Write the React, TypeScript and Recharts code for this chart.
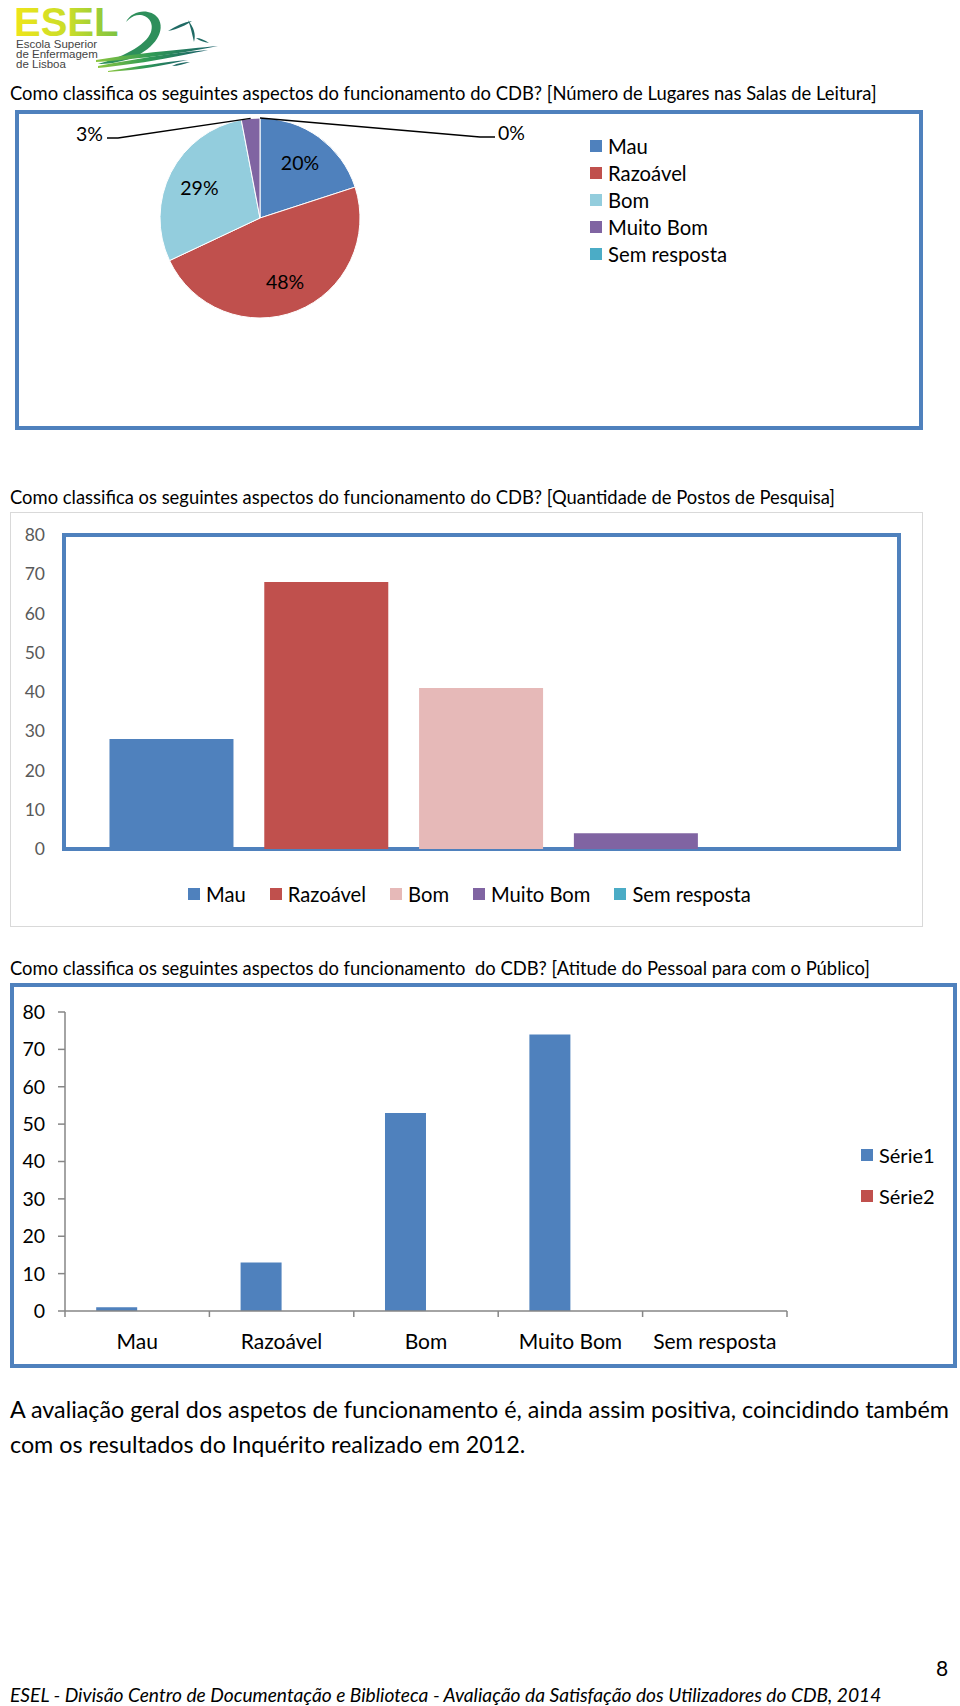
import React from "react";
import { PieChart, Pie, Cell, BarChart, Bar, XAxis, YAxis, Legend } from "recharts";

const categories = ["Mau", "Razoável", "Bom", "Muito Bom", "Sem resposta"];

// [Número de Lugares nas Salas de Leitura] - percentagens
const lugaresPct = [20, 48, 29, 3, 0];
const lugaresColors = ["#4f81bd", "#c0504d", "#93cddd", "#8064a2", "#4bacc6"];

// [Quantidade de Postos de Pesquisa]
const postosValues = [28, 68, 41, 4, 0];
const postosColors = ["#4f81bd", "#c0504d", "#e6b9b8", "#8064a2", "#4bacc6"];

// [Atitude do Pessoal para com o Público]
const serieNames = ["Série1", "Série2"];
const serieColors = ["#4f81bd", "#c0504d"];
const atitudeSerie1 = [1, 13, 53, 74, 0];
const atitudeSerie2 = [0, 0, 0, 0, 0];

const yTicks = [0, 10, 20, 30, 40, 50, 60, 70, 80];

const FONT = "Lato, 'Open Sans', sans-serif";
const RAD = Math.PI / 180;

const pieData = categories.map((name, i) => ({ name, value: lugaresPct[i] }));
const postosData = categories.map((name, i) => ({ name, [name]: postosValues[i] }));
const atitudeData = categories.map((name, i) => ({
  name,
  s1: atitudeSerie1[i],
  s2: atitudeSerie2[i],
}));

// leader line placement for the tiny slices (relative to pie centre)
const smallLabels: Record<number, { elbow: [number, number]; end: [number, number]; left: boolean }> = {
  3: { elbow: [-142, -80], end: [-153, -80], left: true },
  4: { elbow: [220, -81], end: [235, -81], left: false },
};

function renderPieLabel(p: any) {
  const { cx, cy, midAngle, outerRadius, index, value } = p;
  if (value >= 10) {
    const r = outerRadius * 0.68;
    return (
      <text
        x={cx + r * Math.cos(-midAngle * RAD)}
        y={cy + r * Math.sin(-midAngle * RAD)}
        textAnchor="middle"
        dominantBaseline="central"
        fontFamily={FONT}
        fontSize={19.5}
        fill="#000"
      >
        {value}%
      </text>
    );
  }
  const lay = smallLabels[index];
  if (!lay) return null;
  const sx = cx + outerRadius * Math.cos(-midAngle * RAD);
  const sy = cy + outerRadius * Math.sin(-midAngle * RAD);
  const ex = cx + lay.elbow[0];
  const ey = cy + lay.elbow[1];
  const tx = cx + lay.end[0];
  const ty = cy + lay.end[1];
  return (
    <g>
      <polyline points={`${sx},${sy} ${ex},${ey} ${tx},${ty}`} fill="none" stroke="#000" strokeWidth={1.3} />
      <text
        x={tx + (lay.left ? -4 : 3)}
        y={ty - 5}
        textAnchor={lay.left ? "end" : "start"}
        dominantBaseline="central"
        fontFamily={FONT}
        fontSize={19.5}
        fill="#000"
      >
        {value}%
      </text>
    </g>
  );
}

function SquareLegend({
  names,
  colors,
  vertical,
  rowHeight,
  gap,
  fontSize,
}: {
  names: string[];
  colors: string[];
  vertical: boolean;
  rowHeight: number;
  gap: number;
  fontSize: number;
}) {
  return (
    <div style={{ display: "flex", flexDirection: vertical ? "column" : "row", fontFamily: FONT, fontSize, color: "#000" }}>
      {names.map((n, i) => (
        <div key={n} style={{ display: "flex", alignItems: "center", height: rowHeight, marginRight: vertical ? 0 : gap, whiteSpace: "nowrap" }}>
          <span style={{ display: "inline-block", width: 12, height: 12, background: colors[i], marginRight: 6 }} />
          <span>{n}</span>
        </div>
      ))}
    </div>
  );
}

function CategoryTick(props: any) {
  const { x, y, payload, index, visibleTicksCount } = props;
  const half = payload && payload.offset ? payload.offset : 72.2;
  const last = index === visibleTicksCount - 1;
  return (
    <g>
      <line x1={x - half} x2={x - half} y1={y} y2={y + 6} stroke="#868686" strokeWidth={1.5} />
      {last && <line x1={x + half} x2={x + half} y1={y} y2={y + 6} stroke="#868686" strokeWidth={1.5} />}
      <text x={x} y={y + 29} textAnchor="middle" dominantBaseline="central" fontFamily={FONT} fontSize={21} fill="#000">
        {payload.value}
      </text>
    </g>
  );
}

function Logo() {
  return (
    <svg width={230} height={80} style={{ position: "absolute", left: 0, top: 0 }}>
      <defs>
        <linearGradient id="eselGrad" x1="0" x2="1" y1="0" y2="0">
          <stop offset="0" stopColor="#efe51a" />
          <stop offset="0.55" stopColor="#c6dc2b" />
          <stop offset="1" stopColor="#7cc242" />
        </linearGradient>
        <linearGradient id="waveGrad" x1="0" x2="1" y1="0" y2="0">
          <stop offset="0" stopColor="#8cc63f" />
          <stop offset="0.45" stopColor="#2f9a55" />
          <stop offset="1" stopColor="#1b5e6b" />
        </linearGradient>
      </defs>
      <text x={14} y={36} fontFamily="'Liberation Sans', Arial, sans-serif" fontWeight="bold" fontSize={40} fill="url(#eselGrad)">
        ESEL
      </text>
      <path d="M126,22 C132,10 150,8 158,18 C166,30 156,48 132,58 C118,63 106,64 98,64 C120,58 146,46 151,32 C155,20 144,12 134,16 C130,18 128,20 126,22 Z" fill="#2e8f5b" />
      <path d="M168,31 C176,26 184,22 192,21 C186,25 178,29 168,31 Z" fill="#1f6a64" />
      <path d="M188,20 C194,28 196,34 194,42 C192,34 191,28 188,20 Z" fill="#1f6a64" />
      <path d="M196,38 C200,38 205,40 209,43 C204,42 200,41 196,38 Z" fill="#1f6a64" />
      <path d="M96,60 C140,53 185,49 218,46 C185,53 140,59 96,62 Z" fill="url(#waveGrad)" />
      <path d="M98,66 C140,58 180,52 208,50 C180,56 140,64 98,68 Z" fill="url(#waveGrad)" />
      <path d="M108,71 C140,66 165,62 188,60 C165,65 140,70 108,72 Z" fill="url(#waveGrad)" />
      <path d="M172,66 C178,63 184,62 190,62 C184,64 178,66 172,66 Z" fill="#1f6a64" />
      <g fontFamily="'Liberation Sans', Arial, sans-serif" fontSize={11.5} fill="#444">
        <text x={16} y={48}>Escola Superior</text>
        <text x={16} y={58}>de Enfermagem</text>
        <text x={16} y={68}>de Lisboa</text>
      </g>
    </svg>
  );
}

const abs = (left: number, top: number, extra: React.CSSProperties = {}): React.CSSProperties => ({
  position: "absolute",
  left,
  top,
  ...extra,
});

const titleStyle: React.CSSProperties = { fontFamily: FONT, fontSize: 18.4, color: "#000", whiteSpace: "pre", lineHeight: "20px" };

export default function App() {
  return (
    <div style={{ position: "absolute", left: 0, top: 0, width: 960, height: 1706, background: "#fff", overflow: "hidden" }}>
      <Logo />

      {/* Chart 1 */}
      <div style={abs(10, 83, titleStyle)}>
        Como classifica os seguintes aspectos do funcionamento do CDB? [Número de Lugares nas Salas de Leitura]
      </div>
      <div style={abs(15, 110, { width: 908, height: 320, border: "4px solid #4f81bd", boxSizing: "border-box" })} />
      <div style={abs(15, 110)}>
        <PieChart width={908} height={320} margin={{ top: 0, right: 0, bottom: 0, left: 0 }}>
          <Pie
            data={pieData}
            dataKey="value"
            nameKey="name"
            cx={245}
            cy={108}
            outerRadius={100}
            startAngle={90}
            endAngle={-270}
            stroke="#fff"
            strokeWidth={1}
            label={renderPieLabel}
            labelLine={false}
            isAnimationActive={false}
          >
            {pieData.map((d, i) => (
              <Cell key={d.name} fill={lugaresColors[i]} />
            ))}
          </Pie>
          <Legend
            layout="vertical"
            align="center"
            verticalAlign="middle"
            wrapperStyle={{ left: 575, top: 22, width: "auto", height: "auto" }}
            content={() => <SquareLegend names={categories} colors={lugaresColors} vertical rowHeight={27} gap={0} fontSize={20.3} />}
          />
        </PieChart>
      </div>

      {/* Chart 2 */}
      <div style={abs(10, 487, titleStyle)}>
        Como classifica os seguintes aspectos do funcionamento do CDB? [Quantidade de Postos de Pesquisa]
      </div>
      <div style={abs(10, 512, { width: 913, height: 415, border: "1px solid #d9d9d9", boxSizing: "border-box" })} />
      <div style={abs(62, 533, { width: 839, height: 318, border: "4px solid #4f81bd", boxSizing: "border-box" })} />
      <div style={abs(10, 512)}>
        <BarChart
          width={913}
          height={415}
          data={postosData}
          margin={{ top: 23, right: 24, bottom: 78, left: 0 }}
          barCategoryGap="10%"
        >
          <XAxis dataKey="name" hide padding={{ left: 31, right: 31 }} />
          <YAxis
            width={53}
            domain={[0, 80]}
            ticks={yTicks}
            interval={0}
            axisLine={false}
            tickLine={false}
            tickSize={0}
            tickMargin={18}
            tick={{ fill: "#595959", fontSize: 17.5, fontFamily: FONT }}
          />
          {categories.map((c, i) => (
            <Bar key={c} dataKey={c} stackId="p" fill={postosColors[i]} isAnimationActive={false} />
          ))}
          <Legend
            layout="horizontal"
            align="center"
            verticalAlign="middle"
            wrapperStyle={{ left: 178, top: 368, width: "auto", height: "auto" }}
            content={() => <SquareLegend names={categories} colors={postosColors} vertical={false} rowHeight={28} gap={24} fontSize={20.2} />}
          />
        </BarChart>
      </div>

      {/* Chart 3 */}
      <div style={abs(10, 958, titleStyle)}>
        Como classifica os seguintes aspectos do funcionamento  do CDB? [Atitude do Pessoal para com o Público]
      </div>
      <div style={abs(10, 983, { width: 947, height: 385, border: "4px solid #4f81bd", boxSizing: "border-box" })} />
      <div style={abs(10, 983)}>
        <BarChart
          width={947}
          height={385}
          data={atitudeData}
          margin={{ top: 29, right: 170, bottom: 27, left: 0 }}
          barCategoryGap="21.6%"
          barGap={0}
        >
          <XAxis
            dataKey="name"
            height={30}
            interval={0}
            axisLine={{ stroke: "#868686", strokeWidth: 1.5 }}
            tickLine={false}
            tickSize={0}
            tickMargin={0}
            tick={<CategoryTick />}
          />
          <YAxis
            width={55}
            domain={[0, 80]}
            ticks={yTicks}
            interval={0}
            axisLine={{ stroke: "#868686", strokeWidth: 1.5 }}
            tickLine={{ stroke: "#868686", strokeWidth: 1.5 }}
            tickSize={7}
            tickMargin={13}
            tick={{ fill: "#000", fontSize: 19.5, fontFamily: FONT }}
          />
          <Bar dataKey="s1" name={serieNames[0]} fill={serieColors[0]} isAnimationActive={false} />
          <Bar dataKey="s2" name={serieNames[1]} fill={serieColors[1]} isAnimationActive={false} />
          <Legend
            layout="vertical"
            align="center"
            verticalAlign="middle"
            wrapperStyle={{ left: 851, top: 151, width: "auto", height: "auto" }}
            content={() => <SquareLegend names={serieNames} colors={serieColors} vertical rowHeight={41} gap={0} fontSize={20} />}
          />
        </BarChart>
      </div>

      {/* Text */}
      <div style={abs(10, 1392, { fontFamily: FONT, fontSize: 23.3, color: "#000", whiteSpace: "nowrap", lineHeight: "35px" })}>
        <div>A avaliação geral dos aspetos de funcionamento é, ainda assim positiva, coincidindo também</div>
        <div>com os resultados do Inquérito realizado em 2012.</div>
      </div>
      <div style={abs(936, 1655, { fontFamily: FONT, fontSize: 21, color: "#000", lineHeight: "26px" })}>8</div>
      <div style={abs(10, 1683, { fontFamily: FONT, fontStyle: "italic", fontSize: 19.2, color: "#000", whiteSpace: "nowrap", lineHeight: "24px" })}>
        ESEL - Divisão Centro de Documentação e Biblioteca - Avaliação da Satisfação dos Utilizadores do CDB, 2014
      </div>
    </div>
  );
}
